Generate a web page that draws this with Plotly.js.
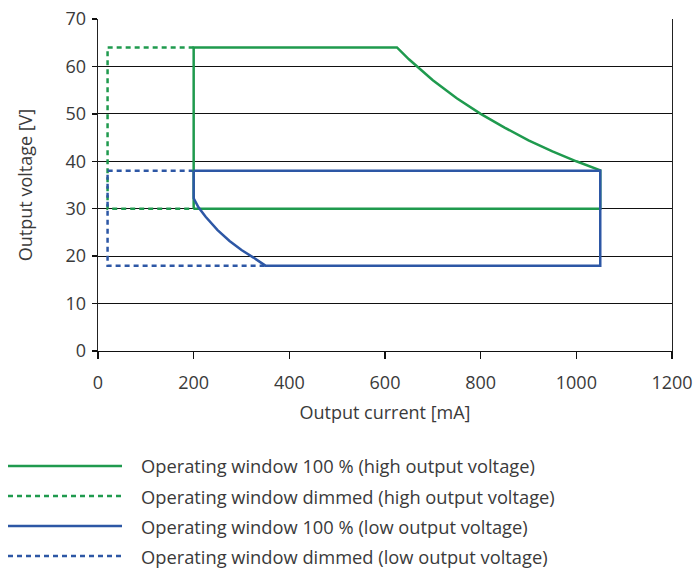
<!DOCTYPE html>
<html>
<head>
<meta charset="utf-8">
<script src="https://cdn.plot.ly/plotly-3.0.1.min.js"></script>
<style>html,body{margin:0;padding:0;background:#fff;}#chart{width:698px;height:570px;}</style>
</head>
<body>
<div id="chart"></div>
<script>
// Operating window 100 % (high output voltage)
const highFullI = [200, 200, 625, 650, 700, 750, 800, 850, 900, 950, 1000, 1050, 1050, 200];
const highFullV = [30, 64, 64, 61.5, 57.1, 53.3, 50, 47.1, 44.4, 42.1, 40, 38.1, 30, 30];
// Operating window dimmed (high output voltage)
const highDimI = [200, 20, 20, 200];
const highDimV = [64, 64, 30, 30];
// Operating window 100 % (low output voltage)
const lowFullI = [200, 1050, 1050, 350, 325, 300, 275, 250, 225, 210, 200, 200];
const lowFullV = [38, 38, 18, 18, 19.7, 21.3, 23.2, 25.5, 28.3, 30.3, 32.2, 38];
// Operating window dimmed (low output voltage)
const lowDimI = [200, 20, 20, 350];
const lowDimV = [38, 38, 18, 18];

const seriesNames = [
  'Operating window 100 % (high output voltage)',
  'Operating window dimmed (high output voltage)',
  'Operating window 100 % (low output voltage)',
  'Operating window dimmed (low output voltage)'
];
const xTicks = [0, 200, 400, 600, 800, 1000, 1200];
const yTicks = [0, 10, 20, 30, 40, 50, 60, 70];

const GREEN = '#1f9a4e';
const BLUE = '#2d57a5';
const FONT = 'Open Sans, sans-serif';
const TXT = '#3a3a3a';

const styles = [
  {color: GREEN, dash: 'solid'},
  {color: GREEN, dash: 'dash'},
  {color: BLUE, dash: 'solid'},
  {color: BLUE, dash: 'dash'}
];
const xs = [highFullI, highDimI, lowFullI, lowDimI];
const ys = [highFullV, highDimV, lowFullV, lowDimV];
const order = [1, 3, 0, 2];
const traces = order.map(i => ({
  x: xs[i], y: ys[i], type: 'scatter', mode: 'lines', name: seriesNames[i],
  line: {color: styles[i].color, width: 2.5, dash: styles[i].dash === 'dash' ? '5px,4px' : 'solid'},
  hoverinfo: 'skip', showlegend: false
}));

// custom legend
const shapes = [];
const annotations = [];
const legY = [466, 496, 526, 556];
const H = 570, W = 698;
const mT = 19, mB = 219, mL = 98, mR = 26;
const plotH = H - mT - mB, plotW = W - mL - mR;
function px2paperX(px){ return (px - mL) / plotW; }
function px2paperY(py){ return (H - mB - py) / plotH; }
for (let i = 0; i < 4; i++) {
  shapes.push({
    type: 'line', xref: 'paper', yref: 'paper',
    x0: px2paperX(8), x1: px2paperX(122), y0: px2paperY(legY[i]), y1: px2paperY(legY[i]),
    line: {color: styles[i].color, width: 2.5, dash: styles[i].dash === 'dash' ? '5px,4px' : 'solid'}
  });
  annotations.push({
    xref: 'paper', yref: 'paper', x: px2paperX(139), y: px2paperY(legY[i]),
    xanchor: 'left', yanchor: 'middle', showarrow: false, text: seriesNames[i],
    font: {family: FONT, size: 18.3, color: TXT}
  });
}

const layout = {
  width: W, height: H,
  margin: {l: mL, r: mR, t: mT, b: mB},
  paper_bgcolor: '#fff', plot_bgcolor: '#fff',
  showlegend: false,
  font: {family: FONT, size: 18, color: TXT},
  xaxis: {
    range: [0, 1200], tickvals: xTicks, ticktext: xTicks.map(String),
    showgrid: false, zeroline: false, showline: true, linecolor: '#111', linewidth: 1.3,
    ticks: 'outside', ticklen: 7, tickcolor: '#111', tickwidth: 1.3,
    ticklabelstandoff: 8,
    tickfont: {family: FONT, size: 18, color: TXT},
    title: {text: 'Output current [mA]', font: {family: FONT, size: 18, color: TXT}, standoff: 13}
  },
  yaxis: {
    range: [0, 70], tickvals: yTicks, ticktext: yTicks.map(String),
    showgrid: true, gridcolor: '#111', gridwidth: 1.2, zeroline: false,
    showline: true, mirror: true, linecolor: '#222', linewidth: 1.3,
    ticks: 'outside', ticklen: 5, tickcolor: '#111', tickwidth: 1.3,
    ticklabelstandoff: 2,
    tickfont: {family: FONT, size: 18, color: TXT},
    title: {text: 'Output voltage [V]', font: {family: FONT, size: 18, color: TXT}, standoff: 28}
  },
  shapes: shapes,
  annotations: annotations
};

Plotly.newPlot('chart', traces, layout, {displayModeBar: false, staticPlot: true});
</script>
</body>
</html>
